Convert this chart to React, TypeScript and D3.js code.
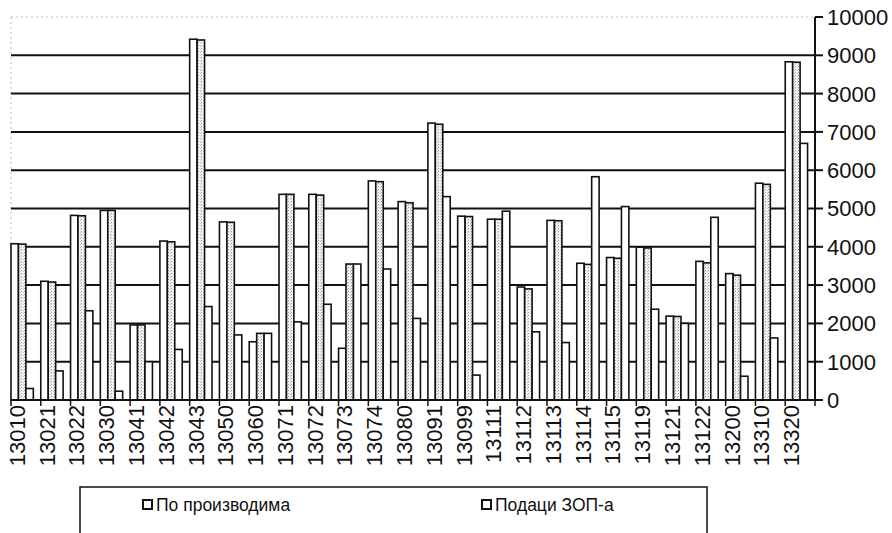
import React from "react";
import * as d3 from "d3";

const categories = [
  "13010", "13021", "13022", "13030", "13041", "13042", "13043", "13050", "13060",
  "13071", "13072", "13073", "13074", "13080", "13091", "13099", "13111", "13112",
  "13113", "13114", "13115", "13119", "13121", "13122", "13200", "13310", "13320",
];

// first (white) bar of each group
const seriesA = [
  4080, 3100, 4820, 4950, 1960, 4150, 9420, 4650, 1520,
  5370, 5370, 1350, 5720, 5180, 7230, 4800, 4720, 2950,
  4690, 3570, 3720, 3990, 2190, 3620, 3300, 5660, 8830,
];
// second (stippled) bar of each group
const seriesB = [
  4070, 3080, 4810, 4950, 1960, 4130, 9400, 4640, 1740,
  5370, 5350, 3550, 5700, 5150, 7200, 4790, 4720, 2900,
  4680, 3540, 3700, 3970, 2180, 3580, 3260, 5630, 8820,
];
// third (white) bar of each group
const seriesC = [
  300, 760, 2330, 230, 1000, 1320, 2440, 1700, 1740,
  2040, 2500, 3550, 3420, 2130, 5310, 650, 4930, 1780,
  1500, 5830, 5050, 2370, 2000, 4770, 620, 1620, 6700,
];

const legendLabels = ["По производима", "Подаци ЗОП-а"];
const yTicks = [0, 1000, 2000, 3000, 4000, 5000, 6000, 7000, 8000, 9000, 10000];

const W = 892;
const H = 533;
const left = 11;
const right = 815;
const top = 17;
const bottom = 400;
const FONT = "'Liberation Sans', Arial, Helvetica, sans-serif";

export default function App() {
  const x = d3.scaleBand<string>().domain(categories).range([left, right]).padding(0);
  const y = d3.scaleLinear().domain([0, 10000]).range([bottom, top]);
  const slot = x.bandwidth() / 4;
  const sub = d3.scaleBand<string>().domain(["A", "B", "C", "gap"]).range([0, x.bandwidth()]);

  const groups = [
    { key: "A", values: seriesA, fill: "#ffffff" },
    { key: "B", values: seriesB, fill: "url(#stipple)" },
    { key: "C", values: seriesC, fill: "#ffffff" },
  ];

  return (
    <svg
      width={W}
      height={H}
      style={{ position: "absolute", left: 0, top: 0, background: "#fff" }}
      fontFamily={FONT}
    >
      <defs>
        <pattern id="stipple" width="3" height="3" patternUnits="userSpaceOnUse">
          <rect width="3" height="3" fill="#f4f4f4" />
          <rect x="0" y="0" width="1" height="1" fill="#9a9a9a" />
          <rect x="2" y="1" width="1" height="1" fill="#c0c0c0" />
        </pattern>
      </defs>

      {/* plot border (faint) */}
      <line x1={left} x2={right} y1={y(10000)} y2={y(10000)} stroke="#bbb" strokeWidth={1} strokeDasharray="2 3" />
      <line x1={left} x2={left} y1={y(10000)} y2={bottom} stroke="#bbb" strokeWidth={1} strokeDasharray="2 3" />

      {/* gridlines */}
      {yTicks
        .filter((t) => t > 0 && t < 10000)
        .map((t) => (
          <line key={t} x1={left} x2={right} y1={y(t)} y2={y(t)} stroke="#111" strokeWidth={2} />
        ))}

      {/* bars */}
      {groups.map((g) =>
        categories.map((c, i) => {
          const bx = (x(c) as number) + (sub(g.key) as number);
          return (
            <rect
              key={g.key + c}
              x={bx}
              y={y(g.values[i])}
              width={slot}
              height={bottom - y(g.values[i])}
              fill={g.fill}
              stroke="#111"
              strokeWidth={1.6}
            />
          );
        })
      )}

      {/* x axis */}
      <line x1={left} x2={right + 7} y1={bottom} y2={bottom} stroke="#111" strokeWidth={2} />
      {categories.map((c) => (
        <line key={"t" + c} x1={x(c) as number} x2={x(c) as number} y1={bottom} y2={bottom + 6} stroke="#111" strokeWidth={1.5} />
      ))}
      <line x1={right} x2={right} y1={bottom} y2={bottom + 6} stroke="#111" strokeWidth={1.5} />
      {categories.map((c) => (
        <text
          key={"l" + c}
          transform={`translate(${(x(c) as number) + 6},${bottom + 5}) rotate(-90)`}
          textAnchor="end"
          dy="0.36em"
          fontSize={22}
          fill="#111"
        >
          {c}
        </text>
      ))}

      {/* y axis on right */}
      <line x1={right} x2={right} y1={y(10000)} y2={bottom} stroke="#111" strokeWidth={2} />
      {yTicks.map((t) => (
        <g key={"y" + t}>
          <line x1={right} x2={right + 8} y1={y(t)} y2={y(t)} stroke="#111" strokeWidth={2} />
          <text x={right + 12} y={y(t)} dy="0.36em" fontSize={22} fill="#111">
            {t}
          </text>
        </g>
      ))}

      {/* legend */}
      <rect x={80} y={487} width={627} height={60} fill="#fff" stroke="#111" strokeWidth={1.5} />
      {legendLabels.map((l, i) => {
        const lx = i === 0 ? 143 : 482;
        return (
          <g key={l}>
            <rect x={lx} y={500} width={9} height={9} fill="#fff" stroke="#111" strokeWidth={2} />
            <text x={lx + 13} y={511} fontSize={17.5} fill="#111">
              {l}
            </text>
          </g>
        );
      })}
    </svg>
  );
}
